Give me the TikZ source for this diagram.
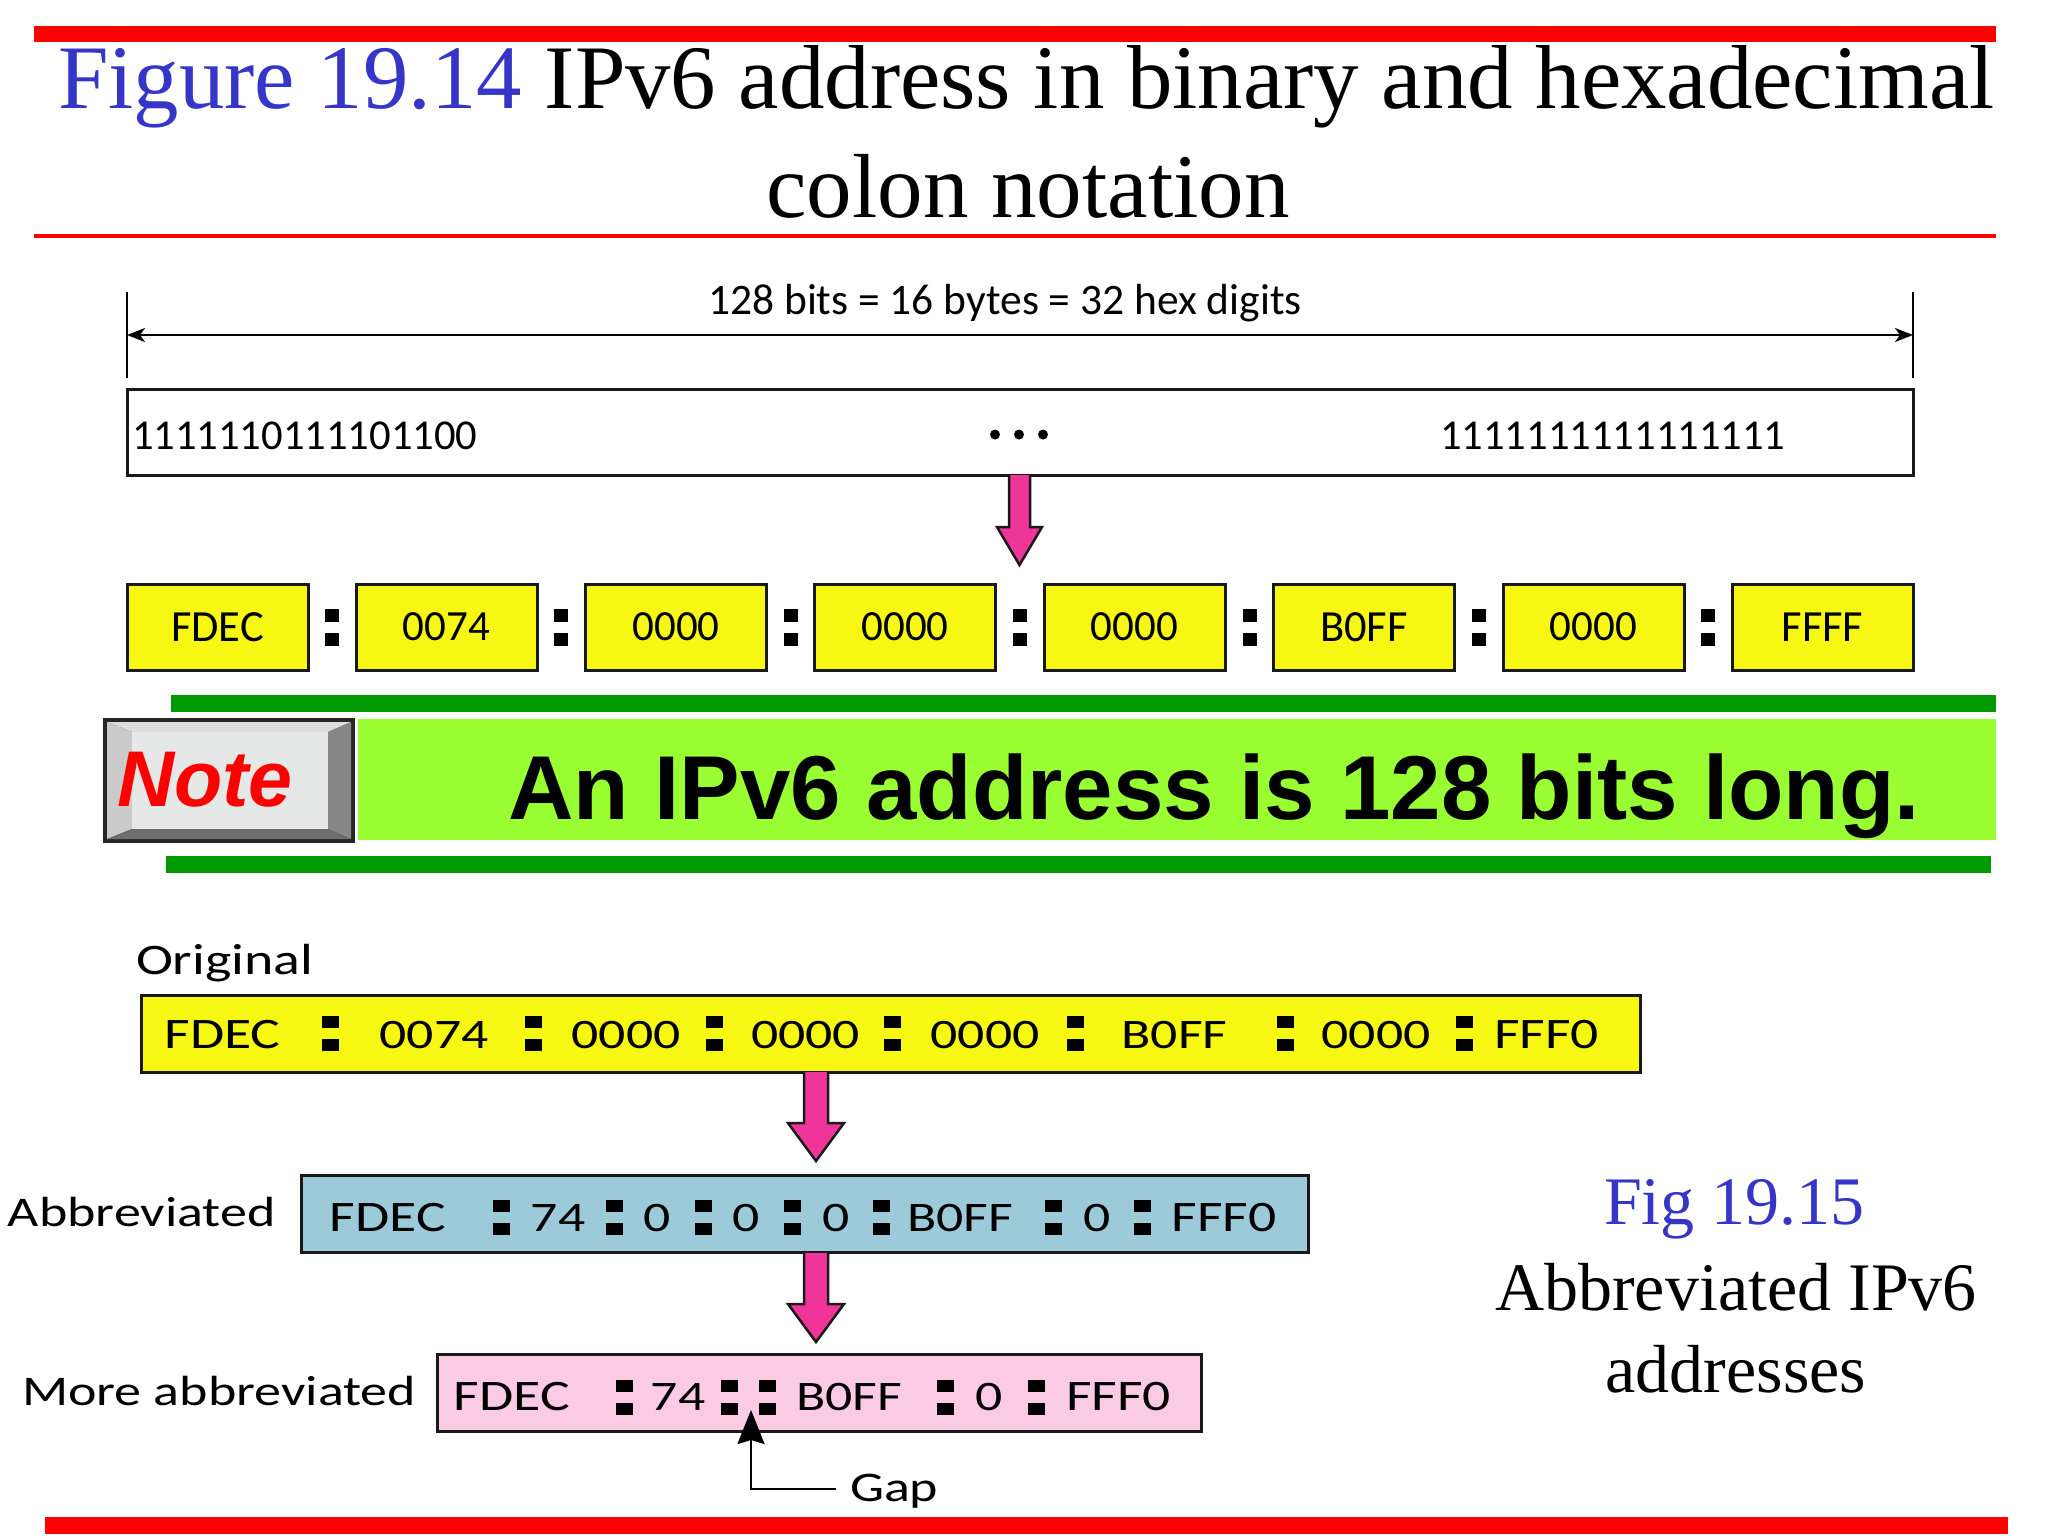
\documentclass[tikz,border=0pt]{standalone}
\usepackage{fontspec}
\usetikzlibrary{arrows.meta}
\setmainfont{Liberation Serif}
\newfontfamily\diagfont{Carlito}
\newfontfamily\widefont[FakeStretch=1.28]{Carlito}
\newfontfamily\armfont{Liberation Sans}
\definecolor{titleblue}{HTML}{3535C8}
\definecolor{barred}{HTML}{FF0000}
\definecolor{bargreen}{HTML}{009900}
\definecolor{bandgreen}{HTML}{99FF33}
\definecolor{boxyellow}{HTML}{F7F714}
\definecolor{boxblue}{HTML}{9CCAD9}
\definecolor{boxpink}{HTML}{FBCBE3}
\definecolor{arrowpink}{HTML}{F0359A}
\definecolor{keyface}{HTML}{E6E7E7}
\definecolor{keytop}{HTML}{DCDDDC}
\definecolor{keyleft}{HTML}{CBCBCB}
\definecolor{keyright}{HTML}{878787}
\definecolor{keybottom}{HTML}{6E6E6E}
\tikzset{
  lbl/.style={inner sep=0pt,outer sep=0pt,anchor=base},
  lblw/.style={inner sep=0pt,outer sep=0pt,anchor=base west},
  ttl/.style={lbl,font=\fontsize{91}{91}\selectfont},
  sidecap/.style={lbl,font=\fontsize{68}{68}\selectfont},
  up/.style={lbl,font=\diagfont\fontsize{43.5}{43.5}\selectfont},
  upw/.style={lblw,font=\diagfont\fontsize{42.6}{42.6}\selectfont},
  low/.style={lbl,font=\widefont\fontsize{43.5}{43.5}\selectfont},
  lowd/.style={lbl,font=\widefont\fontsize{42}{42}\selectfont},
  loww/.style={lblw,font=\widefont\fontsize{42.2}{42.2}\selectfont},
  outl/.style={draw=black!90,line width=3pt,inner sep=0pt,outer sep=0pt},
  hexbox/.style={outl,fill=boxyellow,minimum width=181pt,minimum height=86pt,font=\diagfont\fontsize{44.5}{44.5}\selectfont},
  hexboxd/.style={hexbox,font=\diagfont\fontsize{43}{43}\selectfont},
  pinkshape/.style={draw=black!90,line width=2.5pt,fill=arrowpink,line join=miter},
  thinline/.style={draw=black,line width=2pt},
}
\newcommand{\pinkarrow}[5]{% start, shaft width, shaft length, head width, head length
  \pgfmathsetmacro{\sw}{#2/2}\pgfmathsetmacro{\hw}{#4/2}
  \draw[pinkshape] (#1) ++(-\sw,0) -- ++(0,#3) -- ++(\sw-\hw,0) -- ++(\hw,#5) -- ++(\hw,-#5) -- ++(\sw-\hw,0) -- ++(0,-#3);
}
\newcommand{\colonmark}[5]{% x, centre y, side w, dot h, half distance of centres
  \fill[black] ({#1-#3/2},{#2-#5-#4/2}) rectangle ({#1+#3/2},{#2-#5+#4/2});
  \fill[black] ({#1-#3/2},{#2+#5-#4/2}) rectangle ({#1+#3/2},{#2+#5+#4/2});
}
\begin{document}
\begin{tikzpicture}[x=1pt,y=-1pt]
\useasboundingbox (0,0) rectangle (2048,1536);
\fill[white] (0,0) rectangle (2048,1536);
% red rules
\fill[barred] (34,26) rectangle (1996,42);
\fill[barred] (34,234) rectangle (1996,238);
\fill[barred] (45,1517) rectangle (2008,1534);
% title
\node[lblw,font=\fontsize{90.8}{91}\selectfont] (title1) at (58,108.5) {\textcolor{titleblue}{Figure 19.14} IPv6 address in binary and hexadecimal};
\node[ttl] (title2) at (1028,217.5) {colon notation};
% dimension line
\coordinate (dimL) at (127,335);
\coordinate (dimR) at (1913,335);
\draw[thinline] (127,292) -- (127,378);
\draw[thinline] (1913,292) -- (1913,378);
\draw[thinline,{Stealth[length=18pt,width=14pt,inset=5pt]}-{Stealth[length=18pt,width=14pt,inset=5pt]}] (dimL) -- (dimR);
\node[up] (dimtxt) at (1005,314) {128 bits = 16 bytes = 32 hex digits};
% binary box
\node[outl,minimum width=1786pt,minimum height=86pt,fill=white] (binbox) at (1020,432) {};
\node[upw] (binL) at (132,449) {1111110111101100};
\node[upw] (binR) at (1440,449) {1111111111111111};
\fill[black] (995,434.5) circle (5pt) (1019,434.5) circle (5pt) (1043,434.5) circle (5pt);
\pinkarrow{[xshift=-0.5pt]binbox.south}{21}{52}{45}{38}
% hex boxes
\node[hexbox] (h1) at (217.5,627) {FDEC};
\node[hexboxd] (h2) at (446.5,627) {0074};
\node[hexboxd] (h3) at (676,627) {0000};
\node[hexboxd] (h4) at (905,627) {0000};
\node[hexboxd] (h5) at (1134.5,627) {0000};
\node[hexbox] (h6) at (1364,627) {B0FF};
\node[hexboxd] (h7) at (1593.5,627) {0000};
\node[hexbox] (h8) at (1822.5,627) {FFFF};
\foreach \cx in {332,561,790.5,1019.5,1249.5,1478.5,1708}{\colonmark{\cx}{627.5}{14}{13}{12}}
% note band
\fill[bargreen] (171,695) rectangle (1996,712);
\fill[bargreen] (166,856) rectangle (1991,873);
\fill[bandgreen] (358,719) rectangle (1996,840);
\node[lblw,font=\armfont\bfseries\fontsize{90.7}{91}\selectfont] (notetxt) at (508.5,819) {An IPv6 address is 128 bits long.};
% note button
\fill[black!85] (103,718) rectangle (355,843);
\fill[keytop] (107,722) -- (351,722) -- (328,732) -- (132,732) -- cycle;
\fill[keyleft] (107,722) -- (132,732) -- (132,829) -- (107,839) -- cycle;
\fill[keyright] (351,722) -- (351,839) -- (328,829) -- (328,732) -- cycle;
\fill[keybottom] (107,839) -- (132,829) -- (328,829) -- (351,839) -- cycle;
\fill[keyface] (132,732) rectangle (328,829);
\node[lblw,font=\armfont\bfseries\itshape\fontsize{79}{79}\selectfont,text=red] (notekey) at (117,806) {Note};
% original
\node[loww,font=\widefont\fontsize{43.6}{43.6}\selectfont] (origlbl) at (136,974) {Original};
\node[outl,fill=boxyellow,minimum width=1499pt,minimum height=77pt] (orig) at (890.5,1033.5) {};
\node[low] at (222.5,1048) (o1) {FDEC};
\node[lowd] at (434,1048) (o2) {0074};
\node[lowd] at (626,1048) (o3) {0000};
\node[lowd] at (805.5,1048) (o4) {0000};
\node[lowd] at (985,1048) (o5) {0000};
\node[lowd] at (1174.5,1048) (o6) {B0FF};
\node[lowd] at (1376,1048) (o7) {0000};
\node[low] at (1546.5,1048) (o8) {FFF0};
\foreach \cx in {330.5,533,714,892,1075,1285,1464}{\colonmark{\cx}{1033}{17}{12}{11.5}}
\coordinate (a2s) at (816,1072);
\pinkarrow{a2s}{24}{51}{56}{38}
% abbreviated
\node[loww] (abbrlbl) at (8,1226) {Abbreviated};
\node[outl,fill=boxblue,minimum width=1007pt,minimum height=77pt] (abbr) at (804.5,1214) {};
\node[low] at (388,1231) (b1) {FDEC};
\node[lowd] at (558,1231) (b2) {74};
\node[lowd] at (657,1231) (b3) {0};
\node[lowd] at (746,1231) (b4) {0};
\node[lowd] at (836,1231) (b5) {0};
\node[lowd] at (960,1231) (b6) {B0FF};
\node[lowd] at (1097,1231) (b7) {0};
\node[low] at (1224,1231) (b8) {FFF0};
\foreach \cx in {501,614,703,792,881,1053,1142}{\colonmark{\cx}{1217.5}{17}{12}{11.5}}
\coordinate (a3s) at (816,1253);
\pinkarrow{a3s}{24}{51}{56}{38}
% more abbreviated
\node[loww] (morelbl) at (22,1405) {More abbreviated};
\node[outl,fill=boxpink,minimum width=764pt,minimum height=77pt] (more) at (819,1393) {};
\node[low] at (512,1410) (m1) {FDEC};
\node[lowd] at (678,1410) (m2) {74};
\node[lowd] at (849,1410) (m3) {B0FF};
\node[lowd] at (989,1410) (m4) {0};
\node[low] at (1118.5,1410) (m5) {FFF0};
\foreach \cx in {624,729,767,945,1036}{\colonmark{\cx}{1397}{17}{12}{11.5}}
% gap
\node[loww] (gaplbl) at (850,1501.5) {Gap};
\coordinate (gaptip) at (751,1410);
\coordinate (gapend) at (836,1489);
\draw[line width=2.5pt,{Stealth[length=34pt,width=27pt,inset=4pt]}-] (gaptip) |- (gapend);
% side caption
\node[sidecap,text=titleblue] (cap1) at (1734.5,1224.5) {Fig 19.15};
\node[sidecap] (cap2) at (1736,1310) {Abbreviated IPv6};
\node[sidecap] (cap3) at (1736,1392) {addresses};
\end{tikzpicture}
\end{document}
